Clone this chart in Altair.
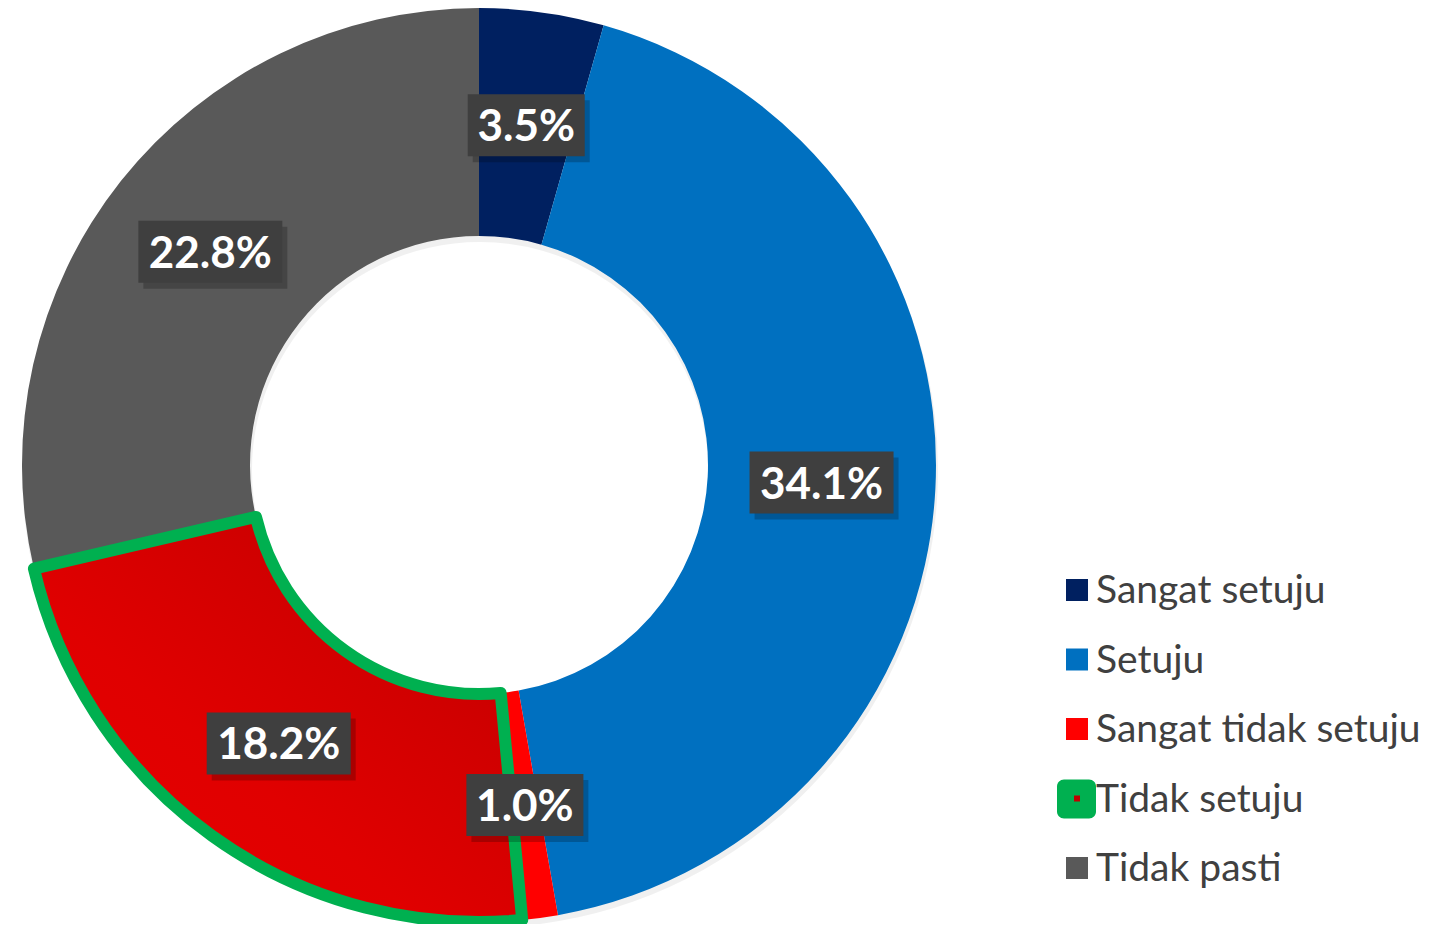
import altair as alt
import pandas as pd

categories = ["Sangat setuju", "Setuju", "Sangat tidak setuju", "Tidak setuju", "Tidak pasti"]
values = [3.5, 34.1, 1.0, 18.2, 22.8]
labels = ["3.5%", "34.1%", "1.0%", "18.2%", "22.8%"]
colors = ["#002060", "#0070C0", "#FF0000", "#E00000", "#595959"]

df = pd.DataFrame({"cat": categories, "value": values, "label": labels, "idx": list(range(len(categories)))})

CX, CY = 471, 457
R_OUT, R_IN = 457, 229
R_LAB = 343
FONT = "Lato"

base = alt.Chart(df)
theta = alt.Theta("value:Q", stack=True)
order = alt.Order("idx:Q")
color = alt.Color("cat:N", scale=alt.Scale(domain=categories, range=colors), legend=None)
is_ts = alt.datum.cat == "Tidak setuju"

shadow = base.mark_arc(outerRadius=R_OUT + 1, innerRadius=R_IN - 1, color="black", opacity=0.06).encode(
    theta=theta, order=order, x=alt.value(CX + 1), y=alt.value(CY + 5)
)

arcs = base.mark_arc(outerRadius=R_OUT, innerRadius=R_IN).encode(
    theta=theta, order=order, color=color, x=alt.value(CX), y=alt.value(CY)
)

red_grad = {
    "gradient": "linear", "x1": 1, "y1": 0, "x2": 0, "y2": 1,
    "stops": [{"offset": 0, "color": "#BF0000"}, {"offset": 0.6, "color": "#E00000"}, {"offset": 1, "color": "#E80000"}],
}
shade = base.mark_arc(outerRadius=R_OUT, innerRadius=R_IN).encode(
    theta=theta, order=order, x=alt.value(CX), y=alt.value(CY),
    fill=alt.condition(is_ts, alt.value(red_grad), alt.value("transparent")),
)

outline = base.mark_arc(outerRadius=R_OUT, innerRadius=R_IN, fillOpacity=0, strokeJoin="round").encode(
    theta=theta, order=order, x=alt.value(CX), y=alt.value(CY),
    stroke=alt.condition(is_ts, alt.value("#00B050"), alt.value("transparent")),
    strokeWidth=alt.condition(is_ts, alt.value(12), alt.value(0)),
)

lab = (
    base.transform_joinaggregate(total="sum(value)")
    .transform_window(cum="sum(value)", sort=[alt.SortField("idx")], frame=[None, 0])
    .transform_calculate(mid="(datum.cum - datum.value/2)/datum.total*2*PI")
    .transform_calculate(lx=f"{CX} + {R_LAB}*sin(datum.mid)")
    .transform_calculate(ly=f"{CY} - {R_LAB}*cos(datum.mid)")
    .transform_calculate(bw="length(datum.label)*27+9")
    .transform_calculate(x0="datum.lx - datum.bw/2", x1="datum.lx + datum.bw/2")
    .transform_calculate(y0="datum.ly - 31", y1="datum.ly + 31")
    .transform_calculate(sx0="datum.x0 + 5", sx1="datum.x1 + 5", sy0="datum.y0 + 6", sy1="datum.y1 + 6")
)

box_shadow = lab.mark_rect(color="black", opacity=0.22).encode(
    x=alt.X("sx0:Q", scale=None), x2="sx1:Q", y=alt.Y("sy0:Q", scale=None), y2="sy1:Q"
)
box = lab.mark_rect(color="#3F3F3F").encode(
    x=alt.X("x0:Q", scale=None), x2="x1:Q", y=alt.Y("y0:Q", scale=None), y2="y1:Q"
)
text = lab.mark_text(font=FONT, fontSize=44, fontWeight="bold", color="white", align="center",
                     baseline="alphabetic", dy=16).encode(
    x=alt.X("lx:Q", scale=None), y=alt.Y("ly:Q", scale=None), text="label:N"
)

leg = base.transform_calculate(gy="582 + datum.idx*69.5")
leg_sq = leg.transform_filter(~is_ts).mark_square(size=484, opacity=1).encode(
    x=alt.value(1069), y=alt.Y("gy:Q", scale=None), color=color
)
leg_green = (
    leg.transform_filter(is_ts)
    .transform_calculate(gx0="1049", gx1="1088", gy0="datum.gy - 19", gy1="datum.gy + 20")
    .mark_rect(cornerRadius=7, color="#00B050")
    .encode(x=alt.X("gx0:Q", scale=None), x2="gx1:Q", y=alt.Y("gy0:Q", scale=None), y2="gy1:Q")
)
leg_dot = leg.transform_filter(is_ts).mark_square(size=36, opacity=1, color="#C00000").encode(
    x=alt.value(1069), y=alt.Y("gy:Q", scale=None)
)
leg_text = leg.mark_text(font=FONT, fontSize=39, color="#404040", align="left", baseline="alphabetic", dy=13).encode(
    x=alt.value(1088), y=alt.Y("gy:Q", scale=None), text="cat:N"
)

chart = (
    alt.layer(shadow, arcs, shade, outline, box_shadow, box, text, leg_sq, leg_green, leg_dot, leg_text)
    .properties(width=1427, height=916, padding=0, autosize="none", background="white")
    .configure_view(stroke=None)
)

chart.save("out.html", embed_options={"renderer": "svg", "actions": False})
